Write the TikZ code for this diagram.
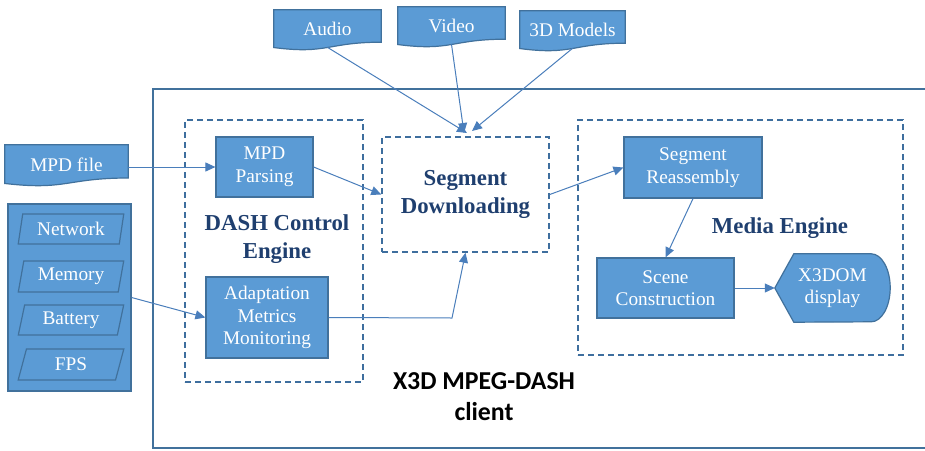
\documentclass[tikz,border=0pt]{standalone}
\usepackage{fontspec}
\setmainfont{Liberation Serif}
\newfontfamily\clientfont{Carlito}
\usetikzlibrary{shapes.geometric,arrows.meta,calc,backgrounds}

\definecolor{boxfill}{HTML}{5B9BD5}
\definecolor{boxline}{HTML}{41719C}
\definecolor{dashline}{HTML}{3E6E9E}
\definecolor{wire}{HTML}{4A7EBB}
\definecolor{titleblue}{HTML}{1F3F6F}

\tikzset{
  x=1pt, y=-1pt,
  bodytext/.style={text=white, font=\fontsize{19.3}{22.5}\selectfont, align=center, inner sep=0pt},
  block/.style={bodytext, draw=boxline, fill=boxfill, line width=1.2pt},
  paper/.style={bodytext},
  paperedge/.style={draw=boxline, fill=boxfill, line width=1.2pt},
  slanted/.style={bodytext, trapezium, trapezium stretches, trapezium left angle=77,
    trapezium right angle=103, draw=boxline, fill=boxfill, line width=1.2pt,
    minimum width=106, minimum height=30},
  dashbox/.style={draw=dashline, line width=1.5pt, dash pattern=on 6pt off 4pt, inner sep=0pt},
  heading/.style={text=titleblue, font=\fontsize{22.8}{28.5}\selectfont\bfseries, align=center, inner sep=0pt},
  wire/.style={draw=wire, line width=1pt, -{Triangle[length=10pt,width=9pt]}}
}

% outline of a document symbol with a wavy lower edge
\newcommand\paperoutline[1]{%
  \path[paperedge] (#1.north west) -- (#1.north east)
    -- ($(#1.north east)!0.802!(#1.south east)$)
    .. controls ($(#1.north)!0.802!(#1.south)$) and ($(#1.north)!1.1075!(#1.south)$)
    .. ($(#1.north west)!0.934!(#1.south west)$) -- cycle;}

\begin{document}
\begin{tikzpicture}
\clip (0,0) rectangle (925,450);

% client frame
\draw[draw=boxline, line width=1.5pt] (153,89) rectangle (945,448);

% input documents
\node[paper, minimum width=107, minimum height=40] (audio) at (327.5,30) {\raisebox{2pt}{Audio}};
\node[paper, minimum width=107, minimum height=40] (video) at (451.5,27) {\raisebox{2pt}{Video}};
\node[paper, minimum width=105, minimum height=40] (models) at (572.5,31) {\raisebox{2pt}{3D Models}};
\node[paper, minimum width=123, minimum height=41] (mpdfile) at (66.5,165.5) {\raisebox{2pt}{MPD file}};
\begin{scope}[on background layer]
  \paperoutline{audio}
  \paperoutline{video}
  \paperoutline{models}
  \paperoutline{mpdfile}
\end{scope}

% adaptation metrics
\node[block, minimum width=123, minimum height=187] (metrics) at (69.5,297.5) {};
\node[slanted] (network) at (71,229) {Network};
\node[slanted, minimum height=31] (memory) at (71,276.5) {Memory};
\node[slanted] (battery) at (71,320) {Battery};
\node[slanted, minimum height=31] (fps) at (71,364.5) {FPS};

% DASH control engine
\node[dashbox, minimum width=178, minimum height=262] (control) at (274,251) {};
\node[block, minimum width=97, minimum height=60] (mpdparse) at (264.5,167) {MPD\\Parsing};
\node[heading] (controltitle) at (277,239) {DASH Control\\Engine};
\node[block, minimum width=122, minimum height=81] (adapt) at (267,317.5) {Adaptation\\Metrics\\Monitoring};

% segment downloading
\node[dashbox, heading, minimum width=167, minimum height=115] (segdl) at (465.5,194.5) {Segment\\Downloading};

% media engine
\node[dashbox, minimum width=325, minimum height=235] (media) at (740.5,237.5) {};
\node[block, minimum width=138, minimum height=61] (segre) at (693,167.5) {Segment\\Reassembly};
\node[heading] (mediatitle) at (780,228) {Media Engine};
\node[block, minimum width=137, minimum height=60] (scene) at (665.5,288) {Scene\\Construction};
\node[bodytext, minimum width=115, minimum height=68] (x3d) at (832.5,288) {X3DOM\\display};
\begin{scope}[on background layer]
  \path[paperedge] (x3d.west) -- ($(x3d.north west)+(19,0)$) -- ($(x3d.north east)+(-19,0)$)
    arc[start angle=90, end angle=-90, x radius=19pt, y radius=34pt]
    -- ($(x3d.south west)+(19,0)$) -- cycle;
\end{scope}

% client caption
\node[font=\clientfont\fontsize{25.8}{31}\selectfont\bfseries, align=center, inner sep=0pt] (client) at (484,397) {X3D MPEG-DASH\\client};

% connectors
\coordinate (inaudio) at (467,133);
\coordinate (invideo) at (464,133);
\coordinate (inmodels) at (472,131);
\coordinate (elbow) at (452,318);
\draw[wire] ($(audio.north)!0.93!(audio.south)$) -- (inaudio);
\draw[wire] ($(video.north)!0.93!(video.south)$) -- (invideo);
\draw[wire] ($(models.north)!0.93!(models.south)$) -- (inmodels);
\draw[wire] (mpdfile.east |- mpdparse.west) -- (mpdparse.west);
\draw[wire] (metrics.east) -- (adapt.west);
\draw[wire] (mpdparse.east) -- (segdl.west);
\draw[wire] (adapt.east) -- (elbow) -- (segdl.south);
\draw[wire] (segdl.east) -- (segre.west);
\draw[wire] (segre.south) -- (scene.north);
\draw[wire] (scene.east) -- (x3d.west);
\end{tikzpicture}
\end{document}
